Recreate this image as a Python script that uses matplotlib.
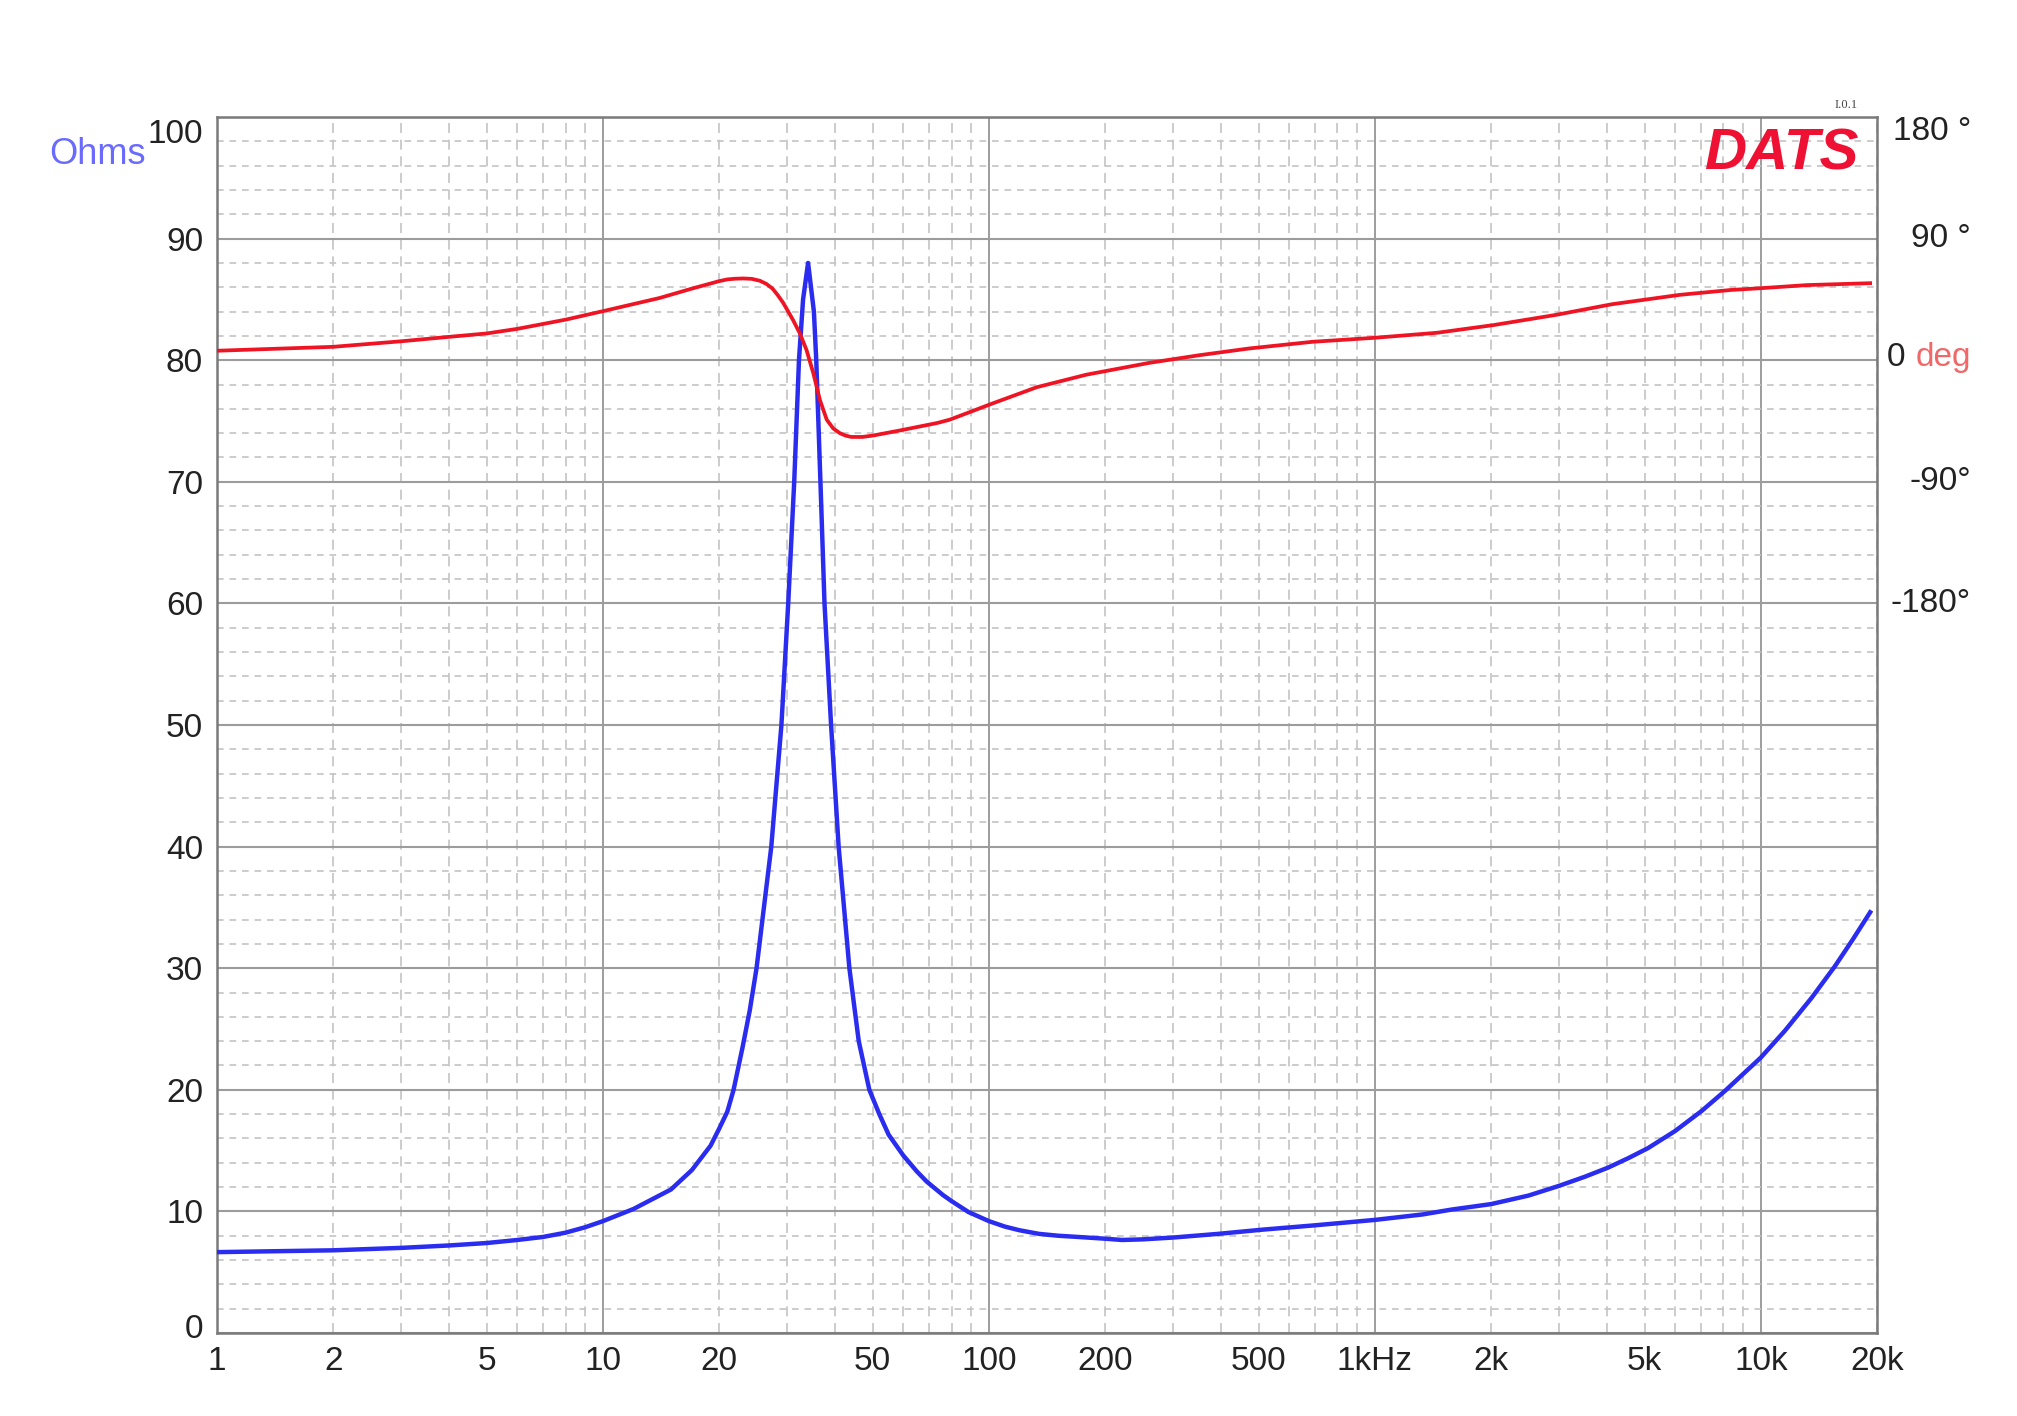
import matplotlib
matplotlib.use("Agg")
import matplotlib.pyplot as plt
from matplotlib.ticker import FixedLocator, FuncFormatter, MultipleLocator, NullFormatter
from matplotlib.transforms import ScaledTranslation

# ---------------- data ----------------
imp_freq = [1, 2, 3, 4, 5, 6, 7, 8, 9, 10, 12, 15, 17, 19, 20, 21, 21.8, 23, 24, 25,
            27.3, 29, 30.2, 31.3, 32.2, 33.0, 34.0, 35.2, 35.7, 36.6, 37.5, 39.0, 40.8,
            43.5, 46, 49.0, 52, 55, 60, 65, 69, 76, 80, 88.5, 100, 110, 120, 135, 151,
            170, 201, 221, 250, 300, 392, 512, 696, 1000, 1330, 1580, 2000, 2500, 3000,
            3500, 4020, 4550, 5100, 5990, 7020, 8070, 9000, 10000, 11540, 13530, 15550,
            17300, 19200]
imp_ohms = [6.65, 6.8, 7.0, 7.2, 7.4, 7.65, 7.9, 8.25, 8.7, 9.2, 10.2, 11.8, 13.4, 15.4,
            16.8, 18.2, 20.0, 23.5, 26.5, 30, 40, 50, 60, 70, 80, 85, 88, 84, 80, 70, 60,
            50, 40, 30, 24, 20, 18, 16.3, 14.6, 13.3, 12.45, 11.35, 10.85, 9.95, 9.2, 8.75,
            8.45, 8.15, 8.0, 7.9, 7.75, 7.65, 7.7, 7.85, 8.15, 8.5, 8.85, 9.3, 9.75,
            10.15, 10.6, 11.3, 12.1, 12.85, 13.6, 14.4, 15.2, 16.6, 18.25, 19.9, 21.3,
            22.65, 24.85, 27.55, 30.15, 32.35, 34.6]

ph_freq = [1, 2, 3, 4, 5, 6, 8, 10, 14, 17, 20, 21, 22, 23.1, 24.3, 25.5, 26.5, 27.5,
           28.4, 29.3, 30.2, 31.1, 32.4, 33.7, 35.1, 36.5, 38.0, 39.5, 41.1, 42.5, 44,
           47, 50, 58.8, 73.4, 79.2, 90, 100, 133, 179, 260, 351, 473, 688, 1000, 1450,
           2030, 2940, 4110, 6180, 8380, 10000, 13180, 19200]
ph_deg = [7.0, 9.9, 14, 17.3, 19.8, 23.2, 30, 36.3, 46, 53, 58.5, 59.8, 60.3, 60.5,
          60.2, 58.8, 56.5, 53, 48, 42.5, 36, 29.6, 19.6, 7.4, -9.9, -29.6, -44,
          -50.5, -54, -55.8, -56.8, -56.8, -55.8, -52, -46.5, -44, -38, -33, -20,
          -10.7, -2.0, 3.7, 8.7, 13.6, 16.6, 20.3, 26, 33.5, 41.4, 48.4, 52, 53.3,
          55.6, 57]

x_major = [1, 10, 100, 1000, 10000]
x_minor = [m * d for d in [1, 10, 100, 1000] for m in range(2, 10)] + [20000]
x_labels = {1: "1", 2: "2", 5: "5", 10: "10", 20: "20", 50: "50", 100: "100",
            200: "200", 500: "500", 1000: "1kHz", 2000: "2k", 5000: "5k",
            10000: "10k", 20000: "20k"}
y_ticks = list(range(0, 101, 10))
ph_ticks = [180, 90, -90, -180]
ph_labels = ["180 °", "90 °", "-90°", "-180°"]

# ---------------- style ----------------
plt.rcParams['font.family'] = ['Liberation Sans', 'DejaVu Sans']
BLUE = '#2a2cf0'
RED = '#ee1424'
TXT = '#222222'

W, H = 2017, 1416
fig = plt.figure(figsize=(W / 100, H / 100), dpi=100)
L, R, T, B = 217, 1877, 117, 1333
ax = fig.add_axes([L / W, 1 - B / H, (R - L) / W, (B - T) / H])

ax.set_xscale('log')
ax.set_xlim(1, 20000)
ax.set_ylim(0, 100)

ax.xaxis.set_major_locator(FixedLocator(x_major))
ax.xaxis.set_minor_locator(FixedLocator(x_minor))
fmt = FuncFormatter(lambda v, p: x_labels.get(int(round(v)), ""))
ax.xaxis.set_major_formatter(fmt)
ax.xaxis.set_minor_formatter(fmt)
ax.yaxis.set_major_locator(FixedLocator(y_ticks))
ax.yaxis.set_minor_locator(MultipleLocator(2))
ax.yaxis.set_minor_formatter(NullFormatter())

ax.tick_params(axis='both', which='both', length=0, labelsize=24, colors=TXT)
ax.tick_params(axis='x', which='both', pad=9)
ax.tick_params(axis='y', which='both', pad=10)

ax.set_axisbelow(True)
ax.grid(axis='y', which='minor', color='#c4c4c4', lw=1.2, dashes=(4, 3.5))
ax.grid(axis='x', which='minor', color='#c4c4c4', lw=1.2, dashes=(6, 4))
ax.grid(axis='y', which='major', color='#9c9c9c', lw=1.5)
ax.grid(axis='x', which='major', color='#8c8c8c', lw=1.2)

for s in ax.spines.values():
    s.set_color('#7a7a7a')
    s.set_linewidth(1.8)

ax.plot(imp_freq, imp_ohms, color=BLUE, lw=3.2, solid_joinstyle='round', zorder=3)

ylabs = ax.yaxis.get_majorticklabels()
ylabs[-1].set_transform(ylabs[-1].get_transform() + ScaledTranslation(0, -0.14, fig.dpi_scale_trans))
ylabs[0].set_transform(ylabs[0].get_transform() + ScaledTranslation(0, 0.07, fig.dpi_scale_trans))

# phase axis
ax2 = ax.twinx()
ax2.set_ylim(-720, 180)
ax2.set_yticks(ph_ticks)
ax2.set_yticklabels(ph_labels)
ax2.tick_params(axis='y', length=0, labelsize=24, colors=TXT, pad=(1971 - R) * 0.72)
plt.setp(ax2.get_yticklabels(), ha='right')
for s in ax2.spines.values():
    s.set_visible(False)
r_labs = ax2.yaxis.get_majorticklabels()
for i, lab in enumerate(r_labs):
    dy = -0.11 if i == 0 else 0.035
    lab.set_transform(lab.get_transform() + ScaledTranslation(0, dy, fig.dpi_scale_trans))
ax2.plot(ph_freq, ph_deg, color=RED, lw=2.7, solid_joinstyle='round', zorder=3)

ytr = ax2.get_yaxis_transform() + ScaledTranslation(0, 0.03, fig.dpi_scale_trans)
ax2.text((1887 - L) / (R - L), 0, "0", transform=ytr, ha='left', va='center',
         fontsize=24, color=TXT, clip_on=False)
ax2.text((1971 - L) / (R - L), 0, "deg", transform=ytr, ha='right', va='center',
         fontsize=24, color='#f06868', clip_on=False)

# annotations
fig.text(97 / W, 1 - 155 / H, "Ohms", ha='center', va='center', fontsize=26, color='#6a6aff')
fig.text(1859 / W, 1 - 155 / H, "DATS", ha='right', va='center', fontsize=42,
         fontweight='bold', fontstyle='italic', color='#ee1133')
fig.text(1846 / W, 1 - 105 / H, "I.0.1", ha='center', va='center', fontsize=9,
         family='Liberation Serif', color='#444444')

fig.savefig('out.png', dpi=100, facecolor='white')
